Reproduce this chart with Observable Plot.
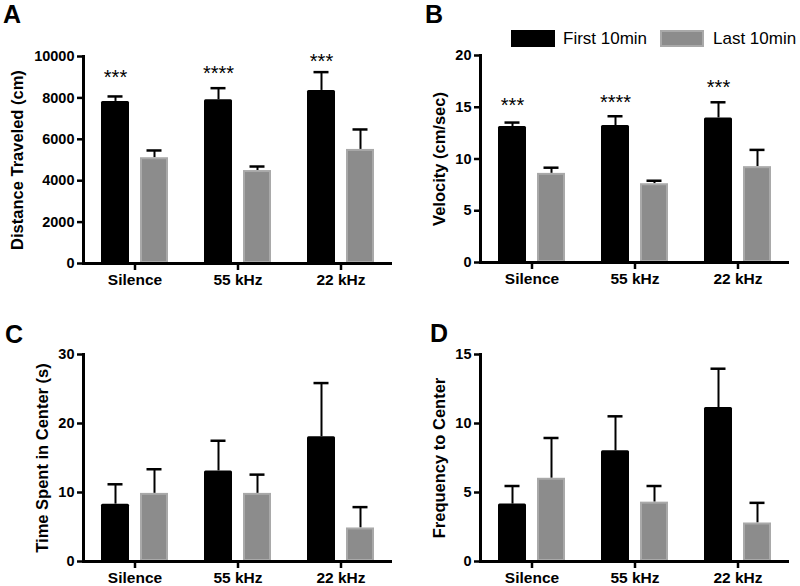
<!DOCTYPE html>
<html><head><meta charset="utf-8">
<script src="https://cdn.jsdelivr.net/npm/d3@7"></script>
<script src="https://cdn.jsdelivr.net/npm/@observablehq/plot@0.6"></script>
<style>
body{margin:0;background:#fff;}
#wrap{position:relative;width:800px;height:586px;overflow:hidden;font-family:"Liberation Sans",Arial,sans-serif;color:#000;}
.panel{position:absolute;}
.letter{position:absolute;font-weight:bold;font-size:25px;line-height:25px;}
.sw{position:absolute;top:30px;height:17px;width:44px;box-sizing:border-box;}
.lt{position:absolute;top:30px;font-size:17px;line-height:17px;white-space:nowrap;}
</style></head><body><div id="wrap"></div>
<script>
const categories = ["Silence", "55 kHz", "22 kHz"];
const seriesNames = ["First 10min", "Last 10min"];

// A: Distance Traveled (cm)
const distFirst = [7830, 7910, 8360];
const distFirstSE = [240, 560, 885];
const distLast = [5110, 4490, 5510];
const distLastSE = [350, 195, 965];
const distStars = ["***", "****", "***"];
const distStarY = [9220, 9400, 10000];

// B: Velocity (cm/sec)
const velFirst = [13.13, 13.23, 13.97];
const velFirstSE = [0.39, 0.90, 1.51];
const velLast = [8.61, 7.61, 9.26];
const velLastSE = [0.55, 0.29, 1.62];
const velStars = ["***", "****", "***"];
const velStarY = [15.6, 15.95, 17.35];

// C: Time Spent in Center (s)
const timeFirst = [8.31, 13.13, 18.08];
const timeFirstSE = [2.88, 4.37, 7.78];
const timeLast = [9.87, 9.87, 4.86];
const timeLastSE = [3.5, 2.72, 3.02];

// D: Frequency to Center
const freqFirst = [4.16, 8.02, 11.16];
const freqFirstSE = [1.31, 2.5, 2.81];
const freqLast = [6.03, 4.3, 2.79];
const freqLastSE = [2.92, 1.17, 1.46];

const yTicksA = [0, 2000, 4000, 6000, 8000, 10000];
const yTicksB = [0, 5, 10, 15, 20];
const yTicksC = [0, 10, 20, 30];
const yTicksD = [0, 5, 10, 15];

const FONT = '"Liberation Sans", Arial, Helvetica, sans-serif';

function panel({first, firstSE, last, lastSE, stars, starY, ticks, label, labelOffset}) {
  const firstRows = categories.map((c, i) => ({cat: c, series: seriesNames[0], mean: first[i], se: firstSE[i]}));
  const lastRows = categories.map((c, i) => ({cat: c, series: seriesNames[1], mean: last[i], se: lastSE[i]}));
  const rows = firstRows.concat(lastRows);
  const starRows = stars ? categories.map((c, i) => ({cat: c, series: seriesNames[0], y: starY[i], label: stars[i]})) : [];
  return Plot.plot({
    width: 400, height: 293,
    marginLeft: 82, marginRight: 8, marginTop: 56, marginBottom: 30,
    style: {fontFamily: FONT, fontWeight: "bold", fontSize: "14px", color: "#000", background: "transparent", overflow: "visible"},
    fx: {domain: categories, padding: 0},
    x: {domain: seriesNames, paddingInner: 0.28, paddingOuter: 0.454, axis: null},
    y: {domain: [ticks[0], ticks[ticks.length - 1]]},
    marks: [
      Plot.ruleX(rows, {fx: "cat", x: "series", y1: "mean", y2: d => d.mean + d.se, stroke: "#000", strokeWidth: 2}),
      Plot.tickY(rows, {fx: "cat", x: "series", y: d => d.mean + d.se, stroke: "#000", strokeWidth: 2.5, insetLeft: 6.5, insetRight: 6.5}),
      Plot.barY(firstRows, {fx: "cat", x: "series", y: "mean", fill: "#000", rx: 1.5}),
      Plot.barY(lastRows, {fx: "cat", x: "series", y: "mean", fill: "#8c8c8c", stroke: "#a9a9a9", strokeWidth: 2, inset: 1}),
      Plot.text(starRows, {fx: "cat", x: "series", y: "y", text: "label", fontSize: 20, fontWeight: "normal", dy: 5}),
      Plot.ruleY([0], {stroke: "#000", strokeWidth: 3}),
      Plot.frame({anchor: "left", stroke: "#000", strokeWidth: 3, facet: "super"}),
      Plot.axisY({ticks, tickSize: 6, tickPadding: 3, strokeWidth: 2.5, tickFormat: d => String(d), label: null, fontSize: 14.5}),
      Plot.axisY({ticks: [], tickSize: 0, label, labelAnchor: "center", labelOffset, labelArrow: "none", fontSize: 16.5}),
      Plot.axisFx({anchor: "bottom", tickSize: 7, tickPadding: 3, strokeWidth: 2.5, label: null, fontSize: 15.5})
    ]
  });
}

const wrap = document.getElementById("wrap");
function place(el, left, top) {
  el.classList.add("panel");
  el.style.left = left + "px";
  el.style.top = top + "px";
  wrap.appendChild(el);
}
place(panel({first: distFirst, firstSE: distFirstSE, last: distLast, lastSE: distLastSE, stars: distStars, starY: distStarY, ticks: yTicksA, label: "Distance Traveled (cm)", labelOffset: 72}), 0, 0);
place(panel({first: velFirst, firstSE: velFirstSE, last: velLast, lastSE: velLastSE, stars: velStars, starY: velStarY, ticks: yTicksB, label: "Velocity (cm/sec)", labelOffset: 47}), 397, -1);
place(panel({first: timeFirst, firstSE: timeFirstSE, last: timeLast, lastSE: timeLastSE, ticks: yTicksC, label: "Time Spent in Center (s)", labelOffset: 47}), 0, 298);
place(panel({first: freqFirst, firstSE: freqFirstSE, last: freqLast, lastSE: freqLastSE, ticks: yTicksD, label: "Frequency to Center", labelOffset: 47}), 397, 298);

const letters = [["A", 3, 2], ["B", 425, 2], ["C", 5, 322], ["D", 430, 321]];
for (const [t, l, tp] of letters) {
  const d = document.createElement("div");
  d.className = "letter"; d.textContent = t;
  d.style.left = l + "px"; d.style.top = tp + "px";
  wrap.appendChild(d);
}
const legendItems = [
  {name: seriesNames[0], swLeft: 511, textLeft: 563, fill: "#000", border: "#000"},
  {name: seriesNames[1], swLeft: 660, textLeft: 713, fill: "#8c8c8c", border: "#a9a9a9"}
];
for (const it of legendItems) {
  const s = document.createElement("div");
  s.className = "sw"; s.style.left = it.swLeft + "px";
  s.style.background = it.fill; s.style.border = "2px solid " + it.border;
  wrap.appendChild(s);
  const t = document.createElement("div");
  t.className = "lt"; t.style.left = it.textLeft + "px"; t.textContent = it.name;
  wrap.appendChild(t);
}
</script></body></html>
